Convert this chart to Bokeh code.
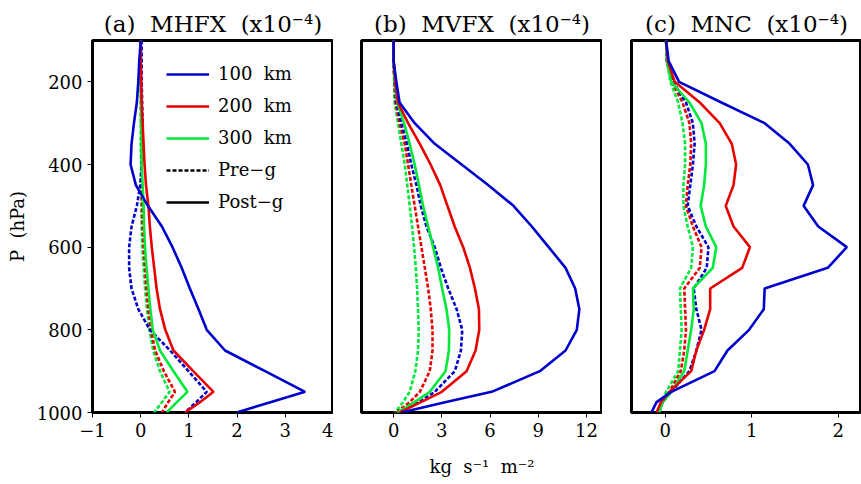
from bokeh.plotting import figure
from bokeh.layouts import row
from bokeh.models import Range1d, FixedTicker, Legend, LegendItem
from bokeh.embed import file_html
from bokeh.resources import INLINE

# ---------------- data ----------------
levels = [100, 150, 200, 250, 300, 350, 400, 450, 500, 550, 600, 650, 700, 750, 800, 850, 900, 950, 975, 1000]

# (a) MHFX (x1e-4)
a_100_post = [0.0, -0.03, -0.05, -0.08, -0.14, -0.19, -0.21, -0.10, 0.15, 0.44, 0.66, 0.85, 1.02, 1.20, 1.37, 1.75, 2.58, 3.41, 2.69, 1.99]
a_200_post = [0.0, 0.0, 0.01, 0.02, 0.04, 0.06, 0.08, 0.11, 0.16, 0.19, 0.23, 0.28, 0.33, 0.40, 0.51, 0.68, 1.09, 1.51, 1.23, 0.92]
a_300_post = [0.0, 0.0, 0.0, 0.01, 0.01, 0.02, 0.02, 0.04, 0.06, 0.07, 0.09, 0.12, 0.16, 0.20, 0.25, 0.40, 0.68, 0.97, 0.75, 0.54]
a_100_pre = [0.02, 0.02, 0.02, 0.03, 0.04, 0.04, 0.02, -0.01, -0.08, -0.19, -0.24, -0.24, -0.19, -0.05, 0.19, 0.61, 0.99, 1.37, 1.15, 0.92]
a_200_pre = [0.0, 0.0, 0.01, 0.01, 0.01, 0.02, 0.02, 0.02, 0.03, 0.04, 0.06, 0.09, 0.12, 0.16, 0.21, 0.30, 0.48, 0.71, 0.57, 0.44]
a_300_pre = [0.0, 0.0, 0.0, 0.0, 0.0, 0.0, 0.01, 0.01, 0.01, 0.02, 0.03, 0.06, 0.09, 0.13, 0.18, 0.26, 0.40, 0.60, 0.44, 0.28]

# (b) MVFX (x1e-4)
b_100_post = [0.0, 0.0, 0.17, 0.37, 1.31, 2.56, 4.23, 5.9, 7.46, 8.6, 9.65, 10.7, 11.3, 11.56, 11.4, 10.7, 9.1, 6.1, 3.2, 0.48]
b_200_post = [0.0, 0.0, 0.1, 0.27, 0.9, 1.63, 2.3, 2.9, 3.35, 3.8, 4.33, 4.75, 5.06, 5.31, 5.33, 5.1, 4.54, 3.0, 1.7, 0.37]
b_300_post = [0.0, 0.0, 0.06, 0.23, 0.65, 1.0, 1.31, 1.58, 1.83, 2.15, 2.46, 2.77, 3.02, 3.29, 3.46, 3.44, 3.23, 2.25, 1.3, 0.23]
b_100_pre = [0.0, 0.0, 0.05, 0.17, 0.48, 0.83, 1.1, 1.42, 1.69, 2.04, 2.56, 2.94, 3.4, 3.92, 4.27, 4.19, 3.81, 2.56, 1.6, 0.27]
b_200_pre = [0.0, 0.0, 0.05, 0.12, 0.37, 0.69, 0.9, 1.1, 1.31, 1.52, 1.73, 1.94, 2.15, 2.31, 2.42, 2.42, 2.25, 1.63, 1.0, 0.17]
b_300_pre = [0.0, 0.0, 0.03, 0.06, 0.27, 0.48, 0.69, 0.85, 1.0, 1.15, 1.27, 1.38, 1.46, 1.52, 1.56, 1.52, 1.35, 1.0, 0.58, 0.1]

# (c) MNC (x1e-4)
c_100_post = [0.01, 0.04, 0.16, 0.65, 1.15, 1.44, 1.65, 1.71, 1.60, 1.77, 2.10, 1.88, 1.15, 1.14, 0.97, 0.72, 0.57, 0.07, -0.10, -0.16]
c_200_post = [0.01, 0.03, 0.11, 0.40, 0.63, 0.77, 0.82, 0.79, 0.70, 0.79, 0.98, 0.89, 0.52, 0.52, 0.45, 0.36, 0.30, 0.05, -0.05, -0.10]
c_300_post = [0.01, 0.02, 0.07, 0.28, 0.42, 0.47, 0.47, 0.45, 0.41, 0.47, 0.59, 0.55, 0.32, 0.33, 0.30, 0.26, 0.22, 0.07, -0.03, -0.07]
c_100_pre = [0.01, 0.02, 0.09, 0.24, 0.32, 0.34, 0.32, 0.29, 0.26, 0.36, 0.50, 0.48, 0.33, 0.36, 0.42, 0.36, 0.28, 0.07, -0.03, -0.07]
c_200_pre = [0.01, 0.02, 0.08, 0.20, 0.28, 0.30, 0.29, 0.26, 0.24, 0.32, 0.42, 0.40, 0.22, 0.23, 0.24, 0.22, 0.18, 0.05, -0.03, -0.09]
c_300_pre = [0.01, 0.02, 0.06, 0.15, 0.20, 0.23, 0.23, 0.21, 0.21, 0.26, 0.32, 0.30, 0.17, 0.18, 0.19, 0.17, 0.15, 0.01, -0.05, -0.07]

SP = "\u00a0\u00a0"
titles = ["(a)" + SP + "MHFX" + SP + "(x10\u207b\u2074)",
          "(b)" + SP + "MVFX" + SP + "(x10\u207b\u2074)",
          "(c)" + SP + "MNC" + SP + "(x10\u207b\u2074)"]
xticks_a = [-1, 0, 1, 2, 3, 4]
xticks_b = [0, 3, 6, 9, 12]
xticks_c = [0, 1, 2]
yticks = [200, 400, 600, 800, 1000]
legend_labels = ["100" + SP + "km", "200" + SP + "km", "300" + SP + "km", "Pre\u2212g", "Post\u2212g"]
ylabel = "P" + SP + "(hPa)"
xlabel = "kg" + SP + "s\u207b\u00b9" + SP + "m\u207b\u00b2"

BLUE = "#0000cc"
RED = "#e80000"
GREEN = "#00e83a"
FONT = "DejaVu Serif"
LW = 2.6
DASH = "4 2"

FRAME_W = 241
FRAME_TOP = 40
FRAME_H = 372
BOTTOM = 72


def make_fig(title, xr, xticks, left, width):
    p = figure(width=width, height=FRAME_TOP + FRAME_H + BOTTOM,
               x_range=Range1d(*xr), y_range=Range1d(1000, 100),
               output_backend="svg", toolbar_location=None,
               min_border_left=left, min_border_right=0,
               min_border_top=FRAME_TOP, min_border_bottom=BOTTOM)
    p.title.text = title
    p.title.align = "center"
    p.title.text_font = FONT
    p.title.text_font_size = "23px"
    p.title.text_font_style = "normal"
    p.title.text_color = "black"
    p.title.standoff = 8
    p.grid.visible = False
    p.outline_line_color = "black"
    p.outline_line_width = 3
    p.background_fill_color = "white"
    p.border_fill_color = "white"
    p.xaxis.ticker = FixedTicker(ticks=xticks)
    p.xaxis.axis_line_color = None
    p.xaxis.major_tick_in = 0
    p.xaxis.major_tick_out = 5
    p.xaxis.major_tick_line_color = "black"
    p.xaxis.minor_tick_line_color = None
    p.xaxis.major_label_text_font = FONT
    p.xaxis.major_label_text_font_size = "18px"
    p.xaxis.major_label_text_color = "black"
    p.xaxis.major_label_standoff = 5
    p.yaxis.ticker = FixedTicker(ticks=yticks)
    p.yaxis.axis_line_color = None
    p.yaxis.major_tick_in = 0
    p.yaxis.major_tick_out = 5
    p.yaxis.major_tick_line_color = "black"
    p.yaxis.minor_tick_line_color = None
    p.yaxis.major_label_text_font = FONT
    p.yaxis.major_label_text_font_size = "18px"
    p.yaxis.major_label_text_color = "black"
    p.yaxis.major_label_standoff = 5
    return p


def draw(p, pre, post):
    rs = []
    for ys, col in zip(pre[::-1], [GREEN, RED, BLUE]):
        p.line(ys, levels, line_color=col, line_width=LW, line_dash=DASH)
    for ys, col in zip(post[::-1], [GREEN, RED, BLUE]):
        rs.append(p.line(ys, levels, line_color=col, line_width=LW))
    return rs[::-1]


pa = make_fig(titles[0], (-1, 4), xticks_a, 92, 92 + FRAME_W)
pb = make_fig(titles[1], (-2, 13), xticks_b, 28, 28 + FRAME_W)
pc = make_fig(titles[2], (-0.39, 2.27), xticks_c, 29, 29 + 230)

ra = draw(pa, [a_100_pre, a_200_pre, a_300_pre], [a_100_post, a_200_post, a_300_post])
draw(pb, [b_100_pre, b_200_pre, b_300_pre], [b_100_post, b_200_post, b_300_post])
draw(pc, [c_100_pre, c_200_pre, c_300_pre], [c_100_post, c_200_post, c_300_post])

pa.yaxis.axis_label = ylabel
pa.yaxis.axis_label_text_font = FONT
pa.yaxis.axis_label_text_font_size = "18px"
pa.yaxis.axis_label_text_font_style = "normal"
pa.yaxis.axis_label_text_color = "black"
pa.yaxis.axis_label_standoff = 6

pb.xaxis.axis_label = xlabel
pb.xaxis.axis_label_text_font = FONT
pb.xaxis.axis_label_text_font_size = "18px"
pb.xaxis.axis_label_text_font_style = "normal"
pb.xaxis.axis_label_text_color = "black"
pb.xaxis.axis_label_standoff = 16

pb.yaxis.visible = False
pc.yaxis.visible = False

# legend dummies (off-range)
dummy_pre = pa.line([-9, -8], [500, 500], line_color="black", line_width=LW, line_dash=DASH)
dummy_post = pa.line([-9, -8], [500, 500], line_color="black", line_width=LW)

items = [LegendItem(label=legend_labels[0], renderers=[ra[0]]),
         LegendItem(label=legend_labels[1], renderers=[ra[1]]),
         LegendItem(label=legend_labels[2], renderers=[ra[2]]),
         LegendItem(label=legend_labels[3], renderers=[dummy_pre]),
         LegendItem(label=legend_labels[4], renderers=[dummy_post])]
legend = Legend(items=items, location=(64, 190),
                border_line_alpha=0, background_fill_alpha=0,
                glyph_width=43, glyph_height=20, label_height=20,
                label_standoff=9, spacing=11, padding=10, margin=0,
                label_text_font=FONT, label_text_font_size="18px",
                label_text_color="black")
pa.add_layout(legend)

layout = row(pa, pb, pc, spacing=0)

open("out.html", "w").write(file_html(layout, INLINE))
